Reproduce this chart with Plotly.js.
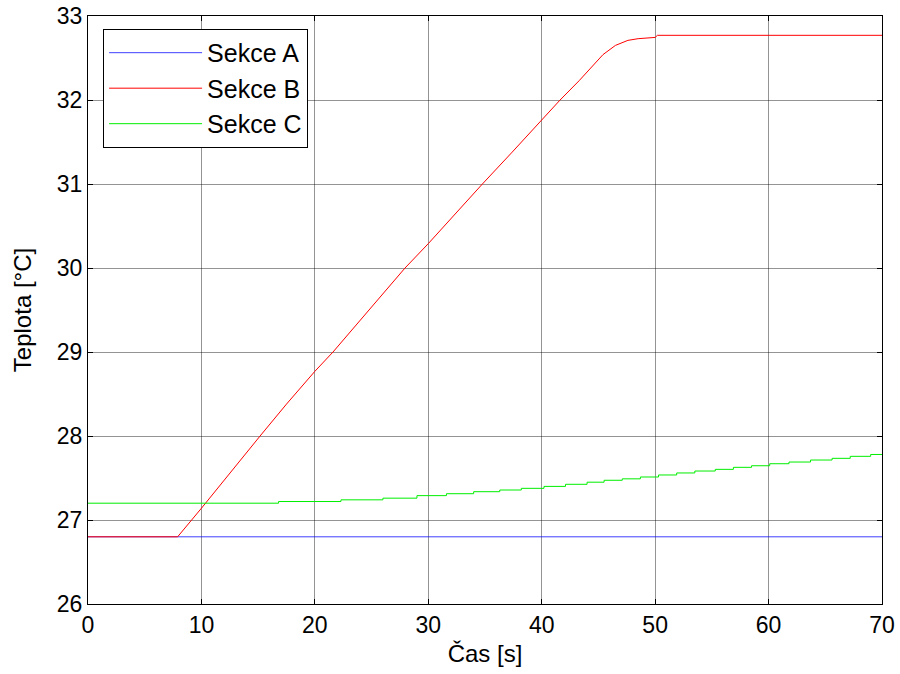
<!DOCTYPE html>
<html>
<head>
<meta charset="utf-8">
<script src="https://cdn.plot.ly/plotly-3.0.1.min.js"></script>
<style>html,body{margin:0;padding:0;background:#fff;}#chart{width:900px;height:674px;}</style>
</head>
<body>
<div id="chart"></div>
<script>
// Sekce A
const tA = [0, 70];
const vA = [26.8, 26.8];
// Sekce B
const tB = [0, 7.9, 10.0, 12.5, 15.17, 17.5, 20, 21.6, 24.8, 27.95, 30, 32.4, 34.77, 37.4, 40, 41.62, 43.3, 44.6, 45.4, 46.5, 47.6, 48.5, 50, 50.2, 70];
const vB = [26.8, 26.8, 27.14, 27.56, 28.0, 28.38, 28.77, 29.0, 29.5, 30.0, 30.29, 30.65, 31.0, 31.38, 31.76, 32.0, 32.23, 32.42, 32.54, 32.65, 32.71, 32.73, 32.745, 32.77, 32.77];
// Sekce C (stepped)
const tC = [0, 16.8, 22.3, 26.0, 29.0, 31.6, 34.0, 36.3, 38.2, 40.2, 42.1, 44.0, 45.5, 47.1, 48.7, 50.3, 51.9, 53.5, 55.3, 56.9, 58.5, 60.1, 61.8, 63.7, 65.6, 67.2, 69.0, 70];
const vC = [27.2, 27.22, 27.24, 27.26, 27.29, 27.313, 27.337, 27.357, 27.377, 27.40, 27.425, 27.45, 27.473, 27.49, 27.512, 27.536, 27.56, 27.583, 27.603, 27.627, 27.646, 27.67, 27.69, 27.714, 27.734, 27.758, 27.78, 27.78];

const names = ['Sekce A', 'Sekce B', 'Sekce C'];
const xTicks = [0, 10, 20, 30, 40, 50, 60, 70];
const yTicks = [26, 27, 28, 29, 30, 31, 32, 33];

const traces = [
  {x: tA, y: vA, name: names[0], mode: 'lines', line: {color: '#0000ff', width: 1}, opacity: 0.75},
  {x: tB, y: vB, name: names[1], mode: 'lines', line: {color: '#ff0000', width: 1}},
  {x: tC, y: vC, name: names[2], mode: 'lines', line: {color: '#00ee00', width: 1, shape: 'hv'}}
];

const fam = 'Liberation Sans, Arial, sans-serif';
const tickFont = {family: fam, size: 23, color: '#000'};
const titleFont = {family: fam, size: 24, color: '#000'};
const legendFont = {family: fam, size: 25, color: '#000'};
const axisCommon = {
  showline: true, linecolor: '#000', linewidth: 1, mirror: 'ticks',
  ticks: 'inside', ticklen: 5, tickcolor: '#000', tickwidth: 1,
  showgrid: true, gridcolor: 'rgba(0,0,0,0.42)', gridwidth: 1,
  zeroline: false, tickfont: tickFont
};

const layout = {
  width: 900, height: 674,
  margin: {l: 88, r: 18, t: 16, b: 70},
  paper_bgcolor: '#fff', plot_bgcolor: '#fff',
  font: tickFont,
  showlegend: true,
  legend: {
    x: 0.019, y: 0.978, xanchor: 'left', yanchor: 'top',
    bgcolor: '#fff', bordercolor: '#000', borderwidth: 1,
    font: legendFont, itemwidth: 93
  },
  xaxis: Object.assign({}, axisCommon, {
    range: [0, 70], tickvals: xTicks, ticktext: xTicks.map(String),
    title: {text: 'Čas [s]', font: titleFont, standoff: 8}
  }),
  yaxis: Object.assign({}, axisCommon, {
    range: [26, 33], tickvals: yTicks, ticktext: yTicks.map(String),
    title: {text: 'Teplota [°C]', font: titleFont, standoff: 18}
  })
};

Plotly.newPlot('chart', traces, layout, {displayModeBar: false, staticPlot: true});
</script>
</body>
</html>
